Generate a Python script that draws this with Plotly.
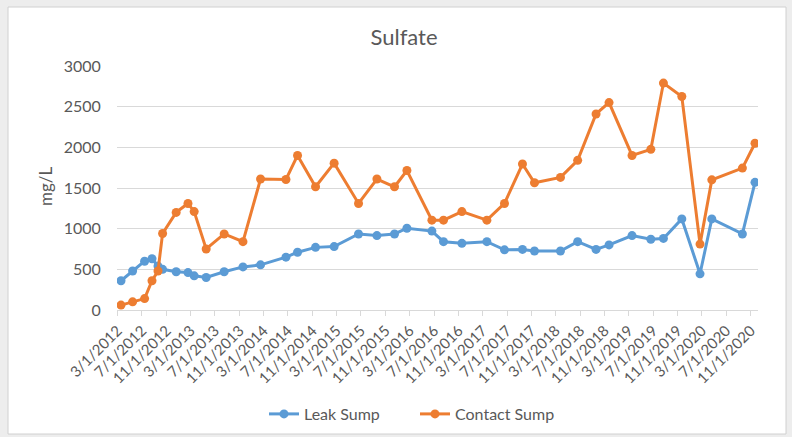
import plotly.graph_objects as go

dates = ["2012-03-18", "2012-05-15", "2012-07-14", "2012-08-20", "2012-09-19", "2012-10-12",
         "2012-12-19", "2013-02-16", "2013-03-19", "2013-05-18", "2013-08-16", "2013-11-18",
         "2014-02-14", "2014-06-21", "2014-08-18", "2014-11-16", "2015-02-17", "2015-06-19",
         "2015-09-19", "2015-12-16", "2016-02-16", "2016-06-20", "2016-08-17", "2016-11-17",
         "2017-03-22", "2017-06-18", "2017-09-16", "2017-11-15", "2018-03-25", "2018-06-19",
         "2018-09-19", "2018-11-23", "2019-03-18", "2019-06-20", "2019-08-22", "2019-11-22",
         "2020-02-21", "2020-04-20", "2020-09-20", "2020-11-22"]

leak_sump = [360, 480, 600, 630, 540, 500, 470, 460, 420, 400, 470, 530, 555, 650, 710, 770,
             780, 935, 915, 935, 1005, 970, 840, 820, 840, 740, 745, 725, 725, 840, 745, 800,
             915, 870, 880, 1120, 445, 1120, 935, 1570]

contact_sump = [60, 100, 140, 360, 480, 940, 1200, 1310, 1210, 750, 935, 840, 1610, 1605, 1900,
                1515, 1805, 1310, 1610, 1515, 1715, 1105, 1105, 1210, 1105, 1310, 1795, 1565,
                1630, 1840, 2410, 2550, 1900, 1975, 2790, 2625, 810, 1600, 1745, 2050]

tick_dates = ["2012-03-01", "2012-07-01", "2012-11-01", "2013-03-01", "2013-07-01", "2013-11-01",
              "2014-03-01", "2014-07-01", "2014-11-01", "2015-03-01", "2015-07-01", "2015-11-01",
              "2016-03-01", "2016-07-01", "2016-11-01", "2017-03-01", "2017-07-01", "2017-11-01",
              "2018-03-01", "2018-07-01", "2018-11-01", "2019-03-01", "2019-07-01", "2019-11-01",
              "2020-03-01", "2020-07-01", "2020-11-01"]
tick_labels = ["3/1/2012", "7/1/2012", "11/1/2012", "3/1/2013", "7/1/2013", "11/1/2013",
               "3/1/2014", "7/1/2014", "11/1/2014", "3/1/2015", "7/1/2015", "11/1/2015",
               "3/1/2016", "7/1/2016", "11/1/2016", "3/1/2017", "7/1/2017", "11/1/2017",
               "3/1/2018", "7/1/2018", "11/1/2018", "3/1/2019", "7/1/2019", "11/1/2019",
               "3/1/2020", "7/1/2020", "11/1/2020"]

BLUE = "#5B9BD5"
ORANGE = "#ED7D31"
TXT = "#595959"
GRID = "#D9D9D9"
FONT = "Lato"

W, H = 792, 437
L, R, T, B = 117, 34, 66, 127
PW, PH = W - L - R, H - T - B


def px(x):
    return (x - L) / PW


def py(y):
    return (H - B - y) / PH


fig = go.Figure()
fig.add_trace(go.Scatter(x=dates, y=leak_sump, name="Leak Sump", mode="lines+markers",
                         line=dict(color=BLUE, width=3), marker=dict(color=BLUE, size=9)))
fig.add_trace(go.Scatter(x=dates, y=contact_sump, name="Contact Sump", mode="lines+markers",
                         line=dict(color=ORANGE, width=3), marker=dict(color=ORANGE, size=9)))

fig.update_layout(
    width=W, height=H,
    margin=dict(l=L, r=R, t=T, b=B, autoexpand=False),
    paper_bgcolor="#EDEDED",
    plot_bgcolor="rgba(0,0,0,0)",
    font=dict(family=FONT, color=TXT, size=15),
    title=dict(text="Sulfate", x=404 / W, xref="container", xanchor="center",
               y=1 - 37 / H, yref="container", yanchor="middle",
               font=dict(family=FONT, size=22, color=TXT)),
    showlegend=True,
    legend=dict(orientation="h", x=px(264), xanchor="left", y=py(414), yanchor="middle",
                entrywidth=106, entrywidthmode="pixels",
                font=dict(family=FONT, size=16, color=TXT), bgcolor="rgba(0,0,0,0)"),
    xaxis=dict(type="date", range=["2012-02-27", "2020-12-07"],
               tickmode="array", tickvals=tick_dates, ticktext=tick_labels,
               tickangle=-45, ticks="outside", ticklen=5, tickcolor=GRID,
               showgrid=False, showline=True, linecolor=GRID, linewidth=1,
               tickfont=dict(family=FONT, size=15, color=TXT), zeroline=False),
    yaxis=dict(range=[0, 3000], tick0=0, dtick=500, showgrid=True, gridcolor=GRID,
               gridwidth=1, zeroline=False, showline=False,
               ticks="outside", ticklen=12, tickcolor="rgba(0,0,0,0)",
               tickfont=dict(family=FONT, size=16, color=TXT)),
    shapes=[dict(type="rect", xref="paper", yref="paper", layer="below",
                 x0=px(8), x1=px(786), y0=py(434), y1=py(7),
                 fillcolor="white", line=dict(color="#D0D0D0", width=1))],
    annotations=[dict(text="mg/L", xref="paper", yref="paper", x=px(45), y=py(186),
                      textangle=-90, showarrow=False, xanchor="center", yanchor="middle",
                      font=dict(family=FONT, size=17, color=TXT))],
)

fig.write_html("out.html", config={"displayModeBar": False},
               post_script="document.body.style.margin='0';document.body.style.overflow='hidden';")
